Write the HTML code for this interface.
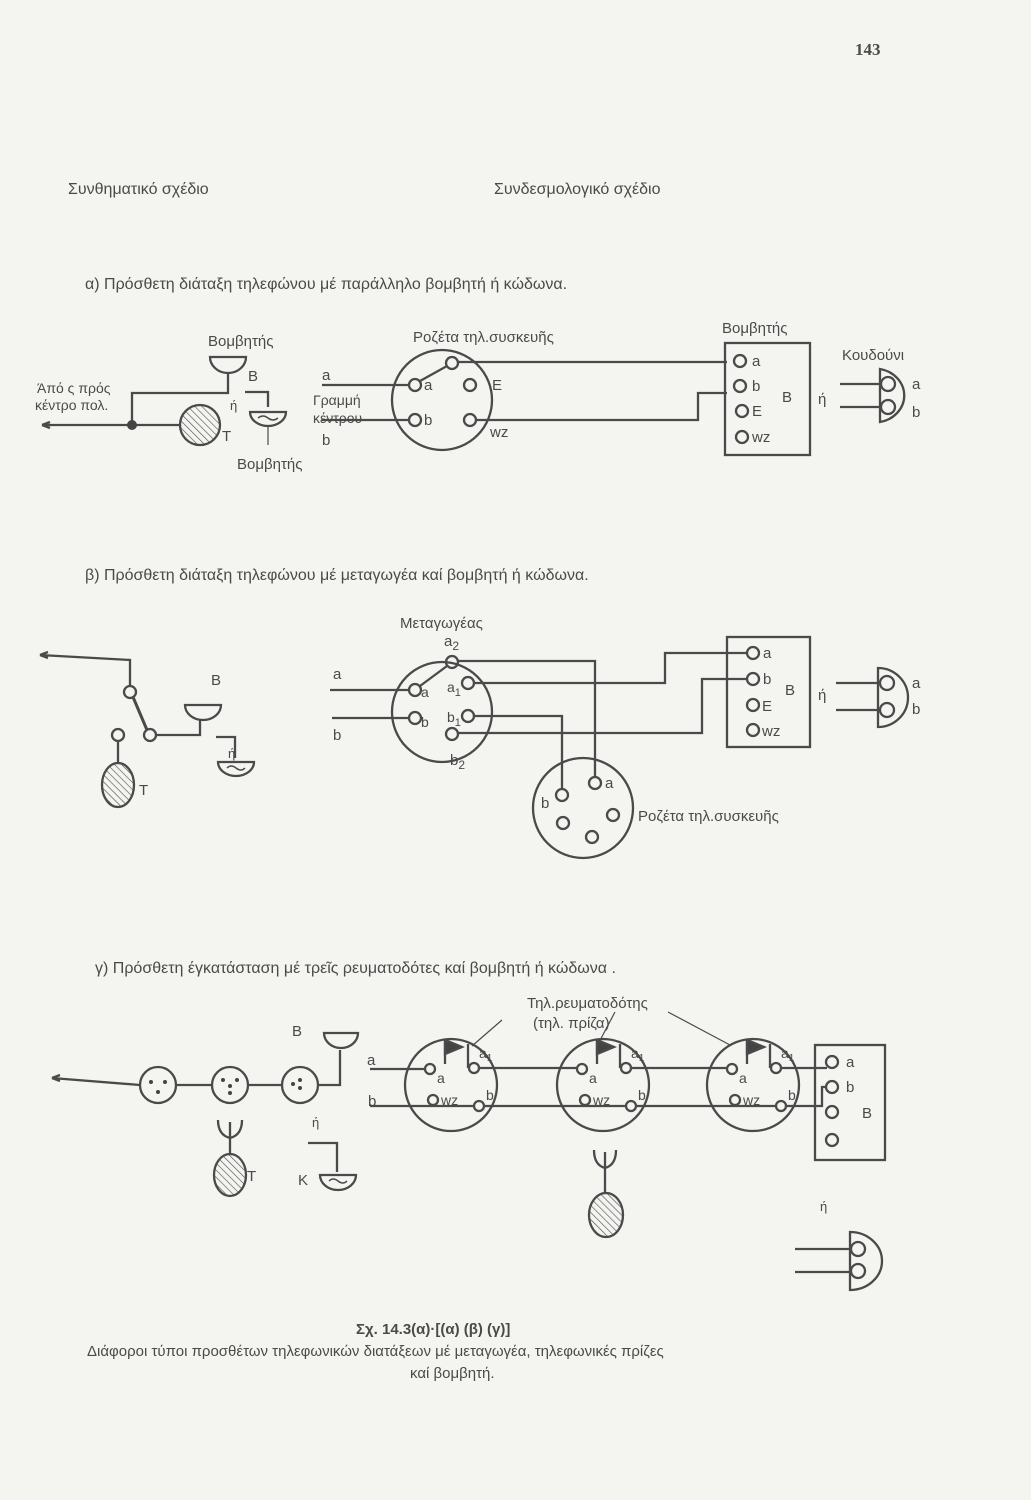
<!DOCTYPE html>
<html><head><meta charset="utf-8"><style>
html,body{margin:0;padding:0;background:#f4f4f1;}
svg{display:block}
text{font-family:"Liberation Sans","DejaVu Sans",sans-serif;fill:#4a4a4a;}
</style></head><body>
<svg width="1031" height="1500" viewBox="0 0 1031 1500" xmlns="http://www.w3.org/2000/svg">
<defs>
<pattern id="h" width="5" height="5" patternUnits="userSpaceOnUse" patternTransform="rotate(-45)">
<line x1="0" y1="0" x2="0" y2="5" stroke="#555" stroke-width="1.3"/></pattern>
</defs>
<rect width="1031" height="1500" fill="#f4f4f1"/>
<text x="855" y="55" font-weight="bold" font-size="17" style="font-family:'Liberation Serif',serif">143</text>

<text x="68" y="194" font-size="16">Συνθηματικό σχέδιο</text>
<text x="494" y="194" font-size="16">Συνδεσμολογικό σχέδιο</text>
<text x="85" y="289" font-size="16">α) Πρόσθετη διάταξη τηλεφώνου μέ παράλληλο βομβητή ή κώδωνα.</text>

<g stroke="#4a4a4a" stroke-width="2.3" fill="none">
<line x1="42" y1="425" x2="132" y2="425"/>
<path d="M42 425 l8 -3 M42 425 l8 3" />
<line x1="132" y1="425" x2="180" y2="425"/>
<circle cx="200" cy="425" r="20" fill="url(#h)"/>
<path d="M132 425 V393 H228 V372"/>
<path d="M210 357 A18 16 0 0 0 246 357 Z"/>
<path d="M245 392 H268 V407"/>
<path d="M250 412 A18 14 0 0 0 286 412 Z"/>
<path d="M258 418 q5 -4 10 0 t10 0" stroke-width="1.5"/>
<line x1="268" y1="425" x2="268" y2="445" stroke-width="1.2"/>
<circle cx="442" cy="400" r="50"/>
<line x1="322" y1="385" x2="410" y2="385"/>
<line x1="322" y1="420" x2="410" y2="420"/>
<circle cx="415" cy="385" r="6"/><circle cx="415" cy="420" r="6"/>
<circle cx="470" cy="385" r="6"/><circle cx="470" cy="420" r="6"/>
<circle cx="452" cy="363" r="6"/>
<line x1="420" y1="381" x2="447" y2="366"/>
<path d="M458 362 H727"/>
<path d="M476 420 H698 V393 H727"/>
<rect x="725" y="343" width="85" height="112"/>
<circle cx="740" cy="361" r="6"/><circle cx="740" cy="386" r="6"/>
<circle cx="742" cy="411" r="6"/><circle cx="742" cy="437" r="6"/>
<line x1="840" y1="384" x2="880" y2="384"/><line x1="840" y1="407" x2="880" y2="407"/>
<path d="M880 369 V422 A30 27 0 0 0 880 369 Z"/>
<circle cx="888" cy="384" r="7"/><circle cx="888" cy="407" r="7"/>

<path d="M40 655 L130 660 V686"/>
<path d="M40 655 l8 -3 M40 655 l8 3"/>
<circle cx="130" cy="692" r="6"/>
<line x1="133" y1="697" x2="147" y2="730" stroke-width="3"/>
<circle cx="150" cy="735" r="6"/>
<path d="M156 735 H200 V720"/>
<path d="M185 705 A18 15 0 0 0 221 705 Z"/>
<path d="M216 737 H235 V758"/>
<path d="M218 762 A18 14 0 0 0 254 762 Z"/>
<path d="M227 768 q4 -4 9 0 t9 0" stroke-width="1.5"/>
<circle cx="118" cy="735" r="6"/>
<line x1="118" y1="741" x2="118" y2="763"/>
<ellipse cx="118" cy="785" rx="16" ry="22" fill="url(#h)"/>
<circle cx="442" cy="712" r="50"/>
<line x1="330" y1="690" x2="410" y2="690"/>
<line x1="332" y1="718" x2="410" y2="718"/>
<circle cx="415" cy="690" r="6"/><circle cx="415" cy="718" r="6"/>
<circle cx="452" cy="662" r="6"/><circle cx="468" cy="683" r="6"/>
<circle cx="468" cy="716" r="6"/><circle cx="452" cy="734" r="6"/>
<line x1="420" y1="686" x2="447" y2="666"/>
<path d="M458 661 H595 V777"/>
<path d="M474 683 H665 V653 H747"/>
<path d="M474 716 H562 V789"/>
<path d="M458 733 H702 V679 H747"/>
<rect x="727" y="637" width="83" height="110"/>
<circle cx="753" cy="653" r="6"/><circle cx="753" cy="679" r="6"/>
<circle cx="753" cy="705" r="6"/><circle cx="753" cy="730" r="6"/>
<line x1="836" y1="683" x2="880" y2="683"/><line x1="836" y1="710" x2="880" y2="710"/>
<path d="M878 668 V727 A30 29.5 0 0 0 878 668 Z"/>
<circle cx="887" cy="683" r="7"/><circle cx="887" cy="710" r="7"/>
<circle cx="583" cy="808" r="50"/>
<circle cx="595" cy="783" r="6"/><circle cx="562" cy="795" r="6"/>
<circle cx="613" cy="815" r="6"/><circle cx="563" cy="823" r="6"/><circle cx="592" cy="837" r="6"/>

<path d="M52 1078 L140 1085"/>
<path d="M52 1078 l8 -3 M52 1078 l8 3"/>
<circle cx="158" cy="1085" r="18"/><circle cx="230" cy="1085" r="18"/><circle cx="300" cy="1085" r="18"/>
<line x1="176" y1="1085" x2="212" y2="1085"/><line x1="248" y1="1085" x2="282" y2="1085"/>
<path d="M318 1085 H340 V1050"/>
<path d="M324 1033 A17 15 0 0 0 358 1033 Z"/>
<path d="M218 1120 q0 15 12 18 q12 -3 12 -18 M230 1122 V1155"/>
<ellipse cx="230" cy="1175" rx="16" ry="21" fill="url(#h)"/>
<path d="M308 1143 H337 V1172"/>
<path d="M320 1175 A18 15 0 0 0 356 1175 Z"/>
<path d="M329 1181 q4 -4 9 0 t9 0" stroke-width="1.5"/>

<circle cx="451" cy="1085" r="46"/><circle cx="603" cy="1085" r="46"/><circle cx="753" cy="1085" r="46"/>
<g id="r1">
<circle cx="430" cy="1069" r="5"/><circle cx="474" cy="1068" r="5"/>
<line x1="468" y1="1068" x2="468" y2="1044"/>
<line x1="445" y1="1064" x2="445" y2="1040"/>
<path d="M445 1040 L462 1047 L445 1054 Z" fill="#444"/>
<circle cx="433" cy="1100" r="5"/><circle cx="479" cy="1106" r="5"/>
</g>
<use href="#r1" transform="translate(152,0)"/>
<use href="#r1" transform="translate(302,0)"/>
<path d="M370 1069 H425 M479 1068 H577 M631 1068 H727 M781 1068 H827"/>
<path d="M370 1106 H474 M484 1106 H626 M636 1106 H776 M786 1106 H822 V1087 H827"/>
<line x1="502" y1="1020" x2="472" y2="1046" stroke-width="1.2"/>
<line x1="615" y1="1012" x2="597" y2="1046" stroke-width="1.2"/>
<line x1="668" y1="1012" x2="730" y2="1045" stroke-width="1.2"/>
<rect x="815" y="1045" width="70" height="115"/>
<circle cx="832" cy="1062" r="6"/><circle cx="832" cy="1087" r="6"/>
<circle cx="832" cy="1112" r="6"/><circle cx="832" cy="1140" r="6"/>
<path d="M594 1150 q0 15 11 18 q11 -3 11 -18 M605 1152 V1193"/>
<ellipse cx="606" cy="1215" rx="17" ry="22" fill="url(#h)"/>
<line x1="795" y1="1249" x2="850" y2="1249"/><line x1="795" y1="1272" x2="850" y2="1272"/>
<path d="M850 1232 V1290 A32 29 0 0 0 850 1232 Z"/>
<circle cx="858" cy="1249" r="7"/><circle cx="858" cy="1271" r="7"/>
</g>
<g fill="#444">
<circle cx="132" cy="425" r="5"/>
<circle cx="151" cy="1082" r="2"/><circle cx="165" cy="1082" r="2"/><circle cx="158" cy="1092" r="2"/>
<circle cx="223" cy="1080" r="2"/><circle cx="237" cy="1080" r="2"/><circle cx="230" cy="1086" r="2"/><circle cx="230" cy="1093" r="2"/>
<circle cx="300" cy="1080" r="2"/><circle cx="300" cy="1088" r="2"/><circle cx="293" cy="1084" r="2"/>
</g>

<g font-size="15">
<text x="208" y="346">Βομβητής</text>
<text x="248" y="381">B</text>
<text x="230" y="410" font-size="13">ή</text>
<text x="222" y="441">T</text>
<text x="237" y="469">Βομβητής</text>
<text x="37" y="393" font-size="14">Άπό ς πρός</text>
<text x="35" y="410" font-size="14">κέντρο πολ.</text>
<text x="322" y="380">a</text>
<text x="313" y="405" font-size="14">Γραμμή</text>
<text x="313" y="423" font-size="14">κέντρου</text>
<text x="322" y="445">b</text>
<text x="413" y="342">Ροζέτα τηλ.συσκευῆς</text>
<text x="424" y="390">a</text>
<text x="424" y="425">b</text>
<text x="492" y="390">E</text>
<text x="490" y="437">wz</text>
<text x="722" y="333">Βομβητής</text>
<text x="752" y="366">a</text><text x="752" y="391">b</text><text x="752" y="416">E</text><text x="752" y="442">wz</text>
<text x="782" y="402">B</text>
<text x="818" y="404">ή</text>
<text x="842" y="360">Κουδούνι</text>
<text x="912" y="389">a</text><text x="912" y="417">b</text>
</g>

<text x="85" y="580" font-size="16">β) Πρόσθετη διάταξη τηλεφώνου μέ μεταγωγέα καί βομβητή ή κώδωνα.</text>
<g font-size="15">
<text x="211" y="685">B</text>
<text x="228" y="758" font-size="13">ή</text>
<text x="139" y="795">T</text>
<text x="400" y="628">Μεταγωγέας</text>
<text x="444" y="646">a<tspan font-size="12" dy="4">2</tspan></text>
<text x="333" y="679">a</text>
<text x="333" y="740">b</text>
<text x="421" y="697" font-size="14">a</text>
<text x="421" y="727" font-size="14">b</text>
<text x="447" y="692" font-size="14">a<tspan font-size="11" dy="4">1</tspan></text>
<text x="447" y="722" font-size="14">b<tspan font-size="11" dy="4">1</tspan></text>
<text x="450" y="765">b<tspan font-size="12" dy="4">2</tspan></text>
<text x="763" y="658">a</text><text x="763" y="684">b</text><text x="762" y="711">E</text><text x="762" y="736">wz</text>
<text x="785" y="695">B</text>
<text x="818" y="700">ή</text>
<text x="912" y="688">a</text><text x="912" y="714">b</text>
<text x="605" y="788">a</text>
<text x="541" y="808">b</text>
<text x="638" y="821">Ροζέτα τηλ.συσκευῆς</text>
</g>

<text x="95" y="973" font-size="16">γ) Πρόσθετη έγκατάσταση μέ τρεῖς ρευματοδότες καί βομβητή ή κώδωνα .</text>
<g font-size="15">
<text x="527" y="1008">Τηλ.ρευματοδότης</text>
<text x="533" y="1028">(τηλ. πρίζα)</text>
<text x="292" y="1036">B</text>
<text x="312" y="1127" font-size="13">ή</text>
<text x="247" y="1181">T</text>
<text x="298" y="1185">K</text>
<text x="367" y="1065">a</text><text x="368" y="1106">b</text>
<text x="846" y="1067">a</text><text x="846" y="1092">b</text><text x="862" y="1118">B</text>
<text x="820" y="1211" font-size="13">ή</text>
</g>
<g font-size="14">
<text x="437" y="1083">a</text><text x="479" y="1058">a<tspan font-size="10" dy="3">1</tspan></text><text x="441" y="1105">wz</text><text x="486" y="1100">b</text>
<text x="589" y="1083">a</text><text x="631" y="1058">a<tspan font-size="10" dy="3">1</tspan></text><text x="593" y="1105">wz</text><text x="638" y="1100">b</text>
<text x="739" y="1083">a</text><text x="781" y="1058">a<tspan font-size="10" dy="3">1</tspan></text><text x="743" y="1105">wz</text><text x="788" y="1100">b</text>
</g>
<text x="356" y="1334" font-size="15" font-weight="bold" fill="#333">Σχ. 14.3(α)·[(α) (β) (γ)]</text>
<text x="87" y="1356" font-size="15">Διάφοροι τύποι προσθέτων τηλεφωνικών διατάξεων μέ μεταγωγέα, τηλεφωνικές πρίζες</text>
<text x="410" y="1378" font-size="15">καί βομβητή.</text>
</svg>
</body></html>
